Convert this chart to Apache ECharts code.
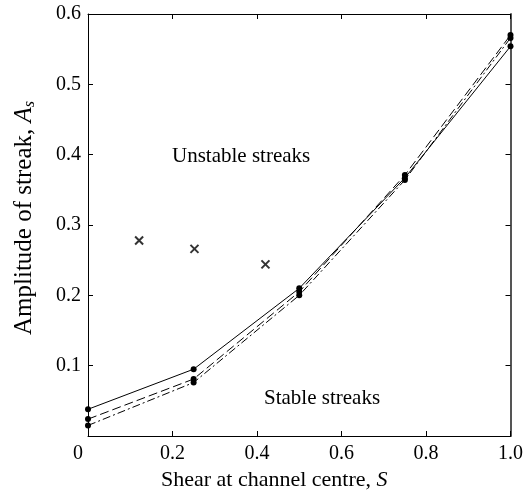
<!DOCTYPE html>
<html><head><meta charset="utf-8">
<script src="https://cdn.jsdelivr.net/npm/echarts@6/dist/echarts.min.js"></script>
<style>html,body{margin:0;padding:0;background:#fff}#c{width:526px;height:504px}</style>
</head><body><div id="c"></div>
<script>
// Data
const shearS = [0, 0.25, 0.5, 0.75, 1.0];
const solidA = [0.038, 0.095, 0.210, 0.367, 0.554];
const dashedA = [0.024, 0.081, 0.205, 0.371, 0.570];
const dashDotA = [0.015, 0.076, 0.200, 0.364, 0.566];
const unstableS = [0.121, 0.252, 0.420];
const unstableA = [0.278, 0.266, 0.244];
const stableS = [0.620, 0.809, 0.949];
const stableA = [0.206, 0.151, 0.079];
const xTicks = ['0', '0.2', '0.4', '0.6', '0.8', '1.0'];
const yTicks = ['', '0.1', '0.2', '0.3', '0.4', '0.5', '0.6'];

const F = 'Liberation Serif, Times New Roman, serif';
const pairs = (xs, ys) => xs.map((x, i) => [x, ys[i]]);
const crossPath = 'path://M0,0L10,10M10,0L0,10';

const chart = echarts.init(document.getElementById('c'));
const baseAxis = {
  type: 'value', splitLine: {show: false},
  axisLine: {show: true, onZero: false, lineStyle: {color: '#000', width: 1}},
  axisTick: {show: true, inside: true, length: 5, lineStyle: {color: '#000'}}
};
chart.setOption({
  animation: false,
  grid: {left: 88, right: 14, top: 14, bottom: 68},
  xAxis: [
    Object.assign({}, baseAxis, {
      min: 0, max: 1, interval: 0.2, position: 'bottom',
      axisLabel: {fontFamily: F, fontSize: 20, color: '#000', margin: 8,
        formatter: v => { const s = xTicks[Math.round(v / 0.2)]; return s === '0' ? '{z|0}' : s; },
        rich: {z: {fontFamily: F, fontSize: 20, color: '#000', padding: [0, 20, 0, 0]}}},
      name: 'Shear at channel centre, {i|S}', nameLocation: 'middle', nameGap: 26,
      nameTextStyle: {fontFamily: F, fontSize: 22, color: '#000', padding: [0, 50, 0, 0],
        rich: {i: {fontFamily: F, fontSize: 22, fontStyle: 'italic', color: '#000'}}}
    }),
    Object.assign({}, baseAxis, {min: 0, max: 1, interval: 0.2, position: 'top', axisLabel: {show: false}})
  ],
  yAxis: [
    Object.assign({}, baseAxis, {
      min: 0, max: 0.6, interval: 0.1, position: 'left',
      axisLabel: {fontFamily: F, fontSize: 20, color: '#000', margin: 7,
        formatter: v => yTicks[Math.round(v / 0.1)]},
      name: '{n|Amplitude of streak, }{i|A}{s|s}', nameLocation: 'middle', nameGap: 46,
      nameTextStyle: {fontFamily: F, fontSize: 25, color: '#000', padding: [0, 0, 0, 14],
        rich: {n: {fontFamily: F, fontSize: 25, color: '#000', lineHeight: 36, verticalAlign: 'middle'},
               i: {fontFamily: F, fontSize: 25, fontStyle: 'italic', color: '#000', lineHeight: 36, verticalAlign: 'middle'},
               s: {fontFamily: F, fontSize: 16, fontStyle: 'italic', color: '#000', lineHeight: 16, verticalAlign: 'bottom', padding: [0, 0, 4, 0]}}}
    }),
    Object.assign({}, baseAxis, {min: 0, max: 0.6, interval: 0.1, position: 'right',
      axisLine: {show: true, onZero: false, lineStyle: {color: '#555', width: 2}}, axisLabel: {show: false}})
  ],
  series: [
    {type: 'line', data: pairs(shearS, solidA), symbol: 'circle', symbolSize: 6, clip: false,
     lineStyle: {color: '#000', width: 1, type: 'solid'}, itemStyle: {color: '#000'}},
    {type: 'line', data: pairs(shearS, dashedA), symbol: 'circle', symbolSize: 6, clip: false,
     lineStyle: {color: '#000', width: 1, type: [9, 4]}, itemStyle: {color: '#000'}},
    {type: 'line', data: pairs(shearS, dashDotA), symbol: 'circle', symbolSize: 6, clip: false,
     lineStyle: {color: '#000', width: 1, type: [8, 3, 2, 3]}, itemStyle: {color: '#000'}},
    {type: 'scatter', data: pairs(unstableS, unstableA), symbol: crossPath, symbolSize: 8,
     itemStyle: {color: 'transparent', borderColor: '#000', borderWidth: 2}},
    {type: 'scatter', data: pairs(stableS, stableA), symbol: 'emptyCircle', symbolSize: 9,
     itemStyle: {color: '#fff', borderColor: '#000', borderWidth: 1.5}}
  ],
  graphic: [
    {type: 'text', left: 172, top: 146, style: {text: 'Unstable streaks', font: '21px ' + F, fill: '#000'}},
    {type: 'text', left: 264, top: 388, style: {text: 'Stable streaks', font: '21px ' + F, fill: '#000'}}
  ]
});
</script>
</body></html>
